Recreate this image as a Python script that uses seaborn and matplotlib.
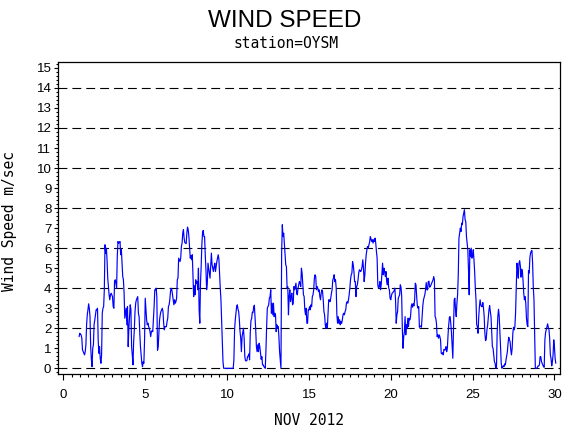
import numpy as np
import pandas as pd
import matplotlib
matplotlib.use("Agg")
import matplotlib.pyplot as plt
from matplotlib.ticker import MultipleLocator
import seaborn as sns

# ---------------- data (hourly wind speed, m/sec) ----------------
title = "WIND SPEED"
subtitle = "station=OYSM"
xlabel = "NOV 2012"
ylabel = "Wind Speed m/sec"

start_day = 0.96          # first observation (day of month axis units)
obs_per_day = 24          # hourly observations

speed = [
    # day 1
    1.58, 1.75, 1.70, 1.67, 1.50, 0.92, 0.83, 0.75, 0.67, 0.83, 1.17, 2.17,
    2.67, 2.92, 3.22, 3.00, 2.58, 1.08, 0.45, 0.08, 1.00, 1.17, 2.20, 2.40,
    # day 2
    2.67, 2.92, 2.92, 3.00, 1.42, 0.75, 1.08, 0.50, 0.25, 0.67, 2.75, 3.00,
    3.08, 3.92, 6.17, 5.75, 6.00, 5.42, 4.50, 4.08, 3.67, 3.42, 3.67, 3.75,
    # day 3
    3.67, 3.58, 3.08, 3.00, 4.33, 4.42, 4.25, 4.00, 5.58, 6.33, 6.25, 6.28,
    6.33, 5.67, 5.92, 5.25, 4.58, 4.42, 3.75, 2.50, 2.75, 3.00, 2.17, 3.08,
    # day 4
    1.08, 2.00, 2.58, 3.17, 2.92, 1.08, 0.67, 0.17, 1.33, 1.92, 2.83, 3.25,
    3.42, 3.50, 3.58, 2.75, 2.58, 1.75, 1.08, 0.67, 0.25, 0.08, 0.33, 0.25,
    # day 5
    1.42, 3.50, 2.92, 2.42, 2.17, 2.25, 2.08, 2.00, 1.83, 1.58, 1.83, 1.88,
    1.83, 2.42, 3.08, 3.92, 3.92, 4.00, 3.58, 0.90, 1.08, 1.75, 2.42, 2.67,
    # day 6
    2.83, 2.92, 3.00, 2.83, 2.25, 1.92, 2.08, 2.08, 2.08, 2.33, 2.50, 3.08,
    3.17, 3.42, 3.83, 4.00, 3.92, 3.67, 3.42, 3.17, 3.42, 3.25, 3.33, 3.50,
    # day 7
    4.42, 4.50, 5.50, 5.42, 5.33, 5.50, 6.08, 6.25, 6.75, 6.92, 6.50, 6.28,
    6.25, 6.22, 6.75, 7.05, 6.92, 6.58, 6.00, 5.50, 5.62, 5.42, 5.67, 4.58,
    # day 8
    3.58, 4.12, 3.67, 4.42, 4.25, 4.33, 3.92, 5.00, 2.92, 2.25, 4.25, 5.08,
    6.17, 6.75, 6.88, 6.58, 6.58, 5.67, 4.92, 3.92, 4.25, 5.25, 5.00, 4.75,
    # day 9
    4.50, 5.08, 5.75, 5.17, 5.00, 4.83, 5.08, 5.25, 4.83, 5.08, 5.33, 5.50,
    5.67, 5.45, 4.67, 4.00, 3.42, 2.42, 1.33, 0.33, 0.00, 0.00, 0.00, 0.00,
    # day 10
    0.00, 0.00, 0.00, 0.00, 0.00, 0.00, 0.00, 0.00, 0.00, 0.00, 0.00, 0.42,
    1.92, 2.42, 2.75, 3.08, 3.17, 2.95, 2.83, 2.42, 1.83, 1.50, 0.83, 1.58,
    # day 11
    1.78, 2.00, 1.50, 0.58, 0.38, 0.37, 0.38, 0.58, 0.62, 0.72, 0.42, 1.75,
    2.38, 2.48, 2.80, 2.78, 3.05, 3.15, 2.58, 1.92, 1.08, 0.83, 1.17, 0.83,
    # day 12
    1.25, 1.08, 0.75, 0.45, 0.58, 0.17, 0.17, 0.08, 0.05, 0.00, 0.92, 2.08,
    3.00, 3.08, 3.17, 3.50, 3.58, 3.92, 2.75, 3.25, 2.67, 3.25, 2.58, 2.75,
    # day 13
    2.67, 1.83, 2.17, 2.00, 2.08, 1.58, 0.83, 0.42, 0.00, 5.75, 7.17, 6.58,
    6.75, 6.25, 5.67, 5.17, 5.08, 4.00, 4.08, 2.67, 3.58, 3.92, 3.33, 3.58,
    # day 14
    3.75, 3.17, 3.25, 4.08, 3.92, 4.08, 4.25, 3.75, 3.67, 4.00, 4.17, 4.33,
    4.25, 4.08, 5.00, 4.75, 4.25, 3.67, 3.58, 2.92, 2.67, 3.00, 2.25, 2.25,
    # day 15
    2.92, 2.92, 3.08, 2.92, 3.17, 3.08, 3.58, 3.67, 3.92, 4.50, 4.67, 4.58,
    3.92, 4.08, 4.00, 3.83, 3.92, 3.58, 3.42, 3.75, 3.92, 3.83, 3.42, 2.83,
    # day 16
    2.67, 2.17, 2.00, 2.25, 2.00, 2.75, 3.42, 3.42, 3.33, 3.50, 3.75, 3.92,
    4.42, 4.50, 4.67, 4.33, 4.42, 4.00, 2.67, 2.25, 2.58, 2.25, 2.42, 2.17,
    # day 17
    2.33, 2.25, 2.42, 2.67, 2.75, 2.67, 2.83, 2.92, 3.25, 3.33, 3.25, 3.42,
    3.67, 4.00, 4.42, 4.67, 4.75, 5.33, 5.17, 4.83, 4.33, 4.33, 3.58, 4.08,
    # day 18
    4.17, 4.42, 4.75, 4.92, 4.87, 4.83, 4.92, 5.08, 5.42, 5.00, 4.33, 4.67,
    5.25, 5.67, 5.92, 6.08, 6.00, 6.17, 6.30, 6.58, 6.45, 6.33, 6.42, 6.25,
    # day 19
    6.42, 6.33, 6.50, 6.25, 5.83, 5.50, 4.17, 4.00, 4.08, 4.33, 3.92, 4.17,
    4.75, 5.25, 4.67, 5.00, 4.83, 4.58, 4.83, 4.33, 4.17, 4.50, 4.00, 3.92,
    # day 20
    3.50, 3.42, 3.62, 3.75, 3.78, 3.83, 3.88, 4.00, 3.42, 2.25, 2.67, 2.83,
    3.50, 3.58, 3.67, 4.17, 4.05, 3.62, 1.92, 1.00, 1.58, 1.83, 2.58, 1.67,
    # day 21
    2.17, 2.00, 2.50, 2.08, 2.50, 2.42, 2.58, 3.08, 3.22, 3.05, 3.22, 3.12,
    3.42, 4.25, 4.17, 3.58, 3.12, 3.00, 3.08, 2.05, 2.12, 2.08, 2.05, 2.58,
    # day 22
    3.12, 3.42, 3.55, 3.68, 3.92, 4.28, 3.92, 3.92, 4.33, 4.35, 4.05, 4.08,
    4.17, 4.25, 4.33, 4.42, 4.58, 4.42, 2.58, 2.50, 2.25, 1.58, 1.67, 1.50,
    # day 23
    1.67, 1.58, 1.42, 0.75, 0.72, 0.78, 0.67, 0.95, 0.92, 0.92, 1.08, 0.83,
    1.00, 1.67, 2.17, 2.55, 2.58, 2.25, 1.78, 1.17, 0.50, 2.00, 3.42, 3.50,
    # day 24
    2.92, 2.58, 3.25, 3.67, 4.67, 6.50, 6.75, 7.00, 6.83, 7.25, 7.17, 7.58,
    7.75, 7.92, 7.42, 7.33, 6.58, 6.25, 5.92, 4.92, 3.67, 5.92, 5.58, 6.00,
    # day 25
    5.50, 5.58, 5.92, 5.42, 4.83, 4.00, 3.42, 2.17, 2.08, 1.75, 2.58, 3.08,
    3.42, 3.17, 3.08, 3.08, 3.28, 3.00, 2.58, 1.75, 1.38, 1.45, 1.92, 2.13,
    # day 26
    2.50, 2.92, 3.13, 2.83, 2.58, 1.83, 1.08, 1.00, 0.67, 0.33, 0.25, 0.00,
    0.00, 1.75, 2.58, 2.95, 2.62, 1.83, 0.92, 0.25, 0.00, 0.05, 0.12, 0.08,
    # day 27
    0.22, 0.17, 0.42, 0.62, 0.83, 1.25, 1.55, 1.42, 1.33, 0.92, 0.67, 1.00,
    1.75, 2.05, 1.92, 2.08, 2.75, 3.92, 5.25, 4.92, 4.50, 5.25, 5.37, 5.12,
    # day 28
    4.55, 4.95, 4.85, 4.37, 3.75, 3.42, 3.58, 3.25, 2.50, 2.17, 2.08, 4.88,
    4.75, 5.53, 5.75, 5.85, 5.88, 5.25, 4.05, 3.42, 1.75, 0.00, 0.00, 0.00,
    # day 29
    0.05, 0.12, 0.12, 0.17, 0.58, 0.58, 0.33, 0.25, 0.17, 0.08, 0.05, 1.42,
    1.78, 1.92, 2.07, 2.22, 2.05, 1.92, 1.50, 0.67, 0.50, 0.12, 0.33, 0.67,
    # day 30
    1.42, 1.08, 0.50, 0.25,
]

x_ticks = [0, 5, 10, 15, 20, 25, 30]
y_ticks = list(range(0, 16))
ref_lines = [0, 2, 4, 6, 8, 10, 12, 14]

# observation times: hourly from start_day
day = start_day + np.arange(len(speed)) / obs_per_day
df = pd.DataFrame({"day": day, "speed": speed})

# ---------------- figure ----------------
sns.set_style("white")
plt.rcParams["font.family"] = ["Liberation Sans", "DejaVu Sans"]
plt.rcParams["text.color"] = "black"
plt.rcParams["axes.labelcolor"] = "black"
plt.rcParams["xtick.color"] = "black"
plt.rcParams["ytick.color"] = "black"
plt.rcParams["lines.scale_dashes"] = False

W, H = 570, 430
fig = plt.figure(figsize=(W / 100, H / 100), dpi=100)
left, right, top, bottom = 58.3, 560.3, 61.5, 374.3
ax = fig.add_axes([left / W, 1 - bottom / H, (right - left) / W, (bottom - top) / H])

for r in ref_lines:
    ax.axhline(r, color="black", lw=0.8, ls=(0, (6.4, 3.6)), zorder=1)

sns.lineplot(data=df, x="day", y="speed", color="#0000ff", lw=0.85,
             estimator=None, sort=False, ax=ax, zorder=3)

ax.set_xlim(-0.31, 30.36)
ax.set_ylim(-0.3, 15.32)

ax.set_xticks(x_ticks)
ax.set_yticks(y_ticks)
ax.xaxis.set_minor_locator(MultipleLocator(0.5))
ax.yaxis.set_minor_locator(MultipleLocator(0.2))
ax.tick_params(axis="both", which="both", direction="out", colors="black",
               bottom=True, left=True, top=False, right=False, width=0.8)
ax.tick_params(axis="x", which="major", length=4.0, pad=6.5, labelsize=9.5)
ax.tick_params(axis="x", which="minor", length=2.2)
ax.tick_params(axis="y", which="major", length=3.0, pad=2, labelsize=9.5)
ax.tick_params(axis="y", which="minor", length=1.6)

for s in ax.spines.values():
    s.set_color("black")
    s.set_linewidth(0.9)
    s.set_visible(True)

ax.set_xlabel(xlabel, family="DejaVu Sans Mono", fontsize=10.5)
ax.set_ylabel(ylabel, family="DejaVu Sans Mono", fontsize=10.5)
ax.xaxis.set_label_coords(0.5, -0.125)
ax.yaxis.set_label_coords(-0.082, 0.49)

fig.text(285 / W, 1 - 21 / H, title, ha="center", va="center",
         fontsize=17.5, family="Liberation Sans", color="black")
fig.text(286 / W, 1 - 44 / H, subtitle, ha="center", va="center",
         fontsize=10.5, family="DejaVu Sans Mono", color="black")

fig.savefig("out.png", dpi=100)
